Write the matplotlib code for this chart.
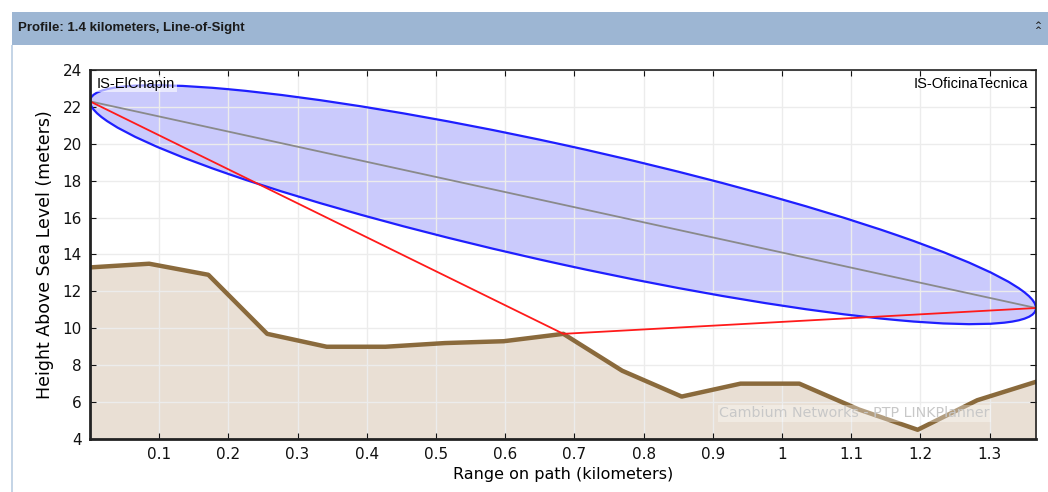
import numpy as np
import matplotlib
matplotlib.use("Agg")
import matplotlib.pyplot as plt
from matplotlib.patches import Ellipse, Rectangle
from matplotlib.transforms import Affine2D

# terrain profile (km, m)
range_km = [0.0, 0.0855, 0.171, 0.256, 0.342, 0.427, 0.513, 0.598, 0.684,
            0.769, 0.855, 0.940, 1.025, 1.111, 1.196, 1.282, 1.367]
terrain_m = [13.3, 13.5, 12.9, 9.7, 9.0, 9.0, 9.2, 9.3, 9.7,
             7.7, 6.3, 7.0, 7.0, 5.6, 4.5, 6.1, 7.1]

# antenna ends, grazing ray and fresnel radius
site_a = (0.0, 22.3)
site_b = (1.367, 11.1)
ray_x = [0.0, 0.684, 1.367]
ray_y = [22.3, 9.7, 11.1]
fresnel_radius = 3.25

x_ticks = [0.1, 0.2, 0.3, 0.4, 0.5, 0.6, 0.7, 0.8, 0.9, 1.0, 1.1, 1.2, 1.3]
x_ticklabels = ["0.1", "0.2", "0.3", "0.4", "0.5", "0.6", "0.7", "0.8", "0.9", "1", "1.1", "1.2", "1.3"]
y_ticks = list(range(4, 25, 2))

fig = plt.figure(figsize=(10.48, 4.92), dpi=100)
fig.patch.set_facecolor("white")

# panel header
fig.patches.append(Rectangle((12/1048, 1-45/492), 1, 33/492, transform=fig.transFigure,
                             facecolor="#9db6d3", edgecolor="none", zorder=0))
fig.patches.append(Rectangle((11/1048, 0), 2/1048, 1-45/492, transform=fig.transFigure,
                             facecolor="#c5d5e6", edgecolor="none", zorder=0))
fig.text(18/1048, 1-28/492, "Profile: 1.4 kilometers, Line-of-Sight", fontsize=9.5,
         family=["Liberation Sans Narrow", "Liberation Sans", "DejaVu Sans"], fontweight="bold",
         color="#1a1a1a", va="center", ha="left")
fig.text(1038/1048, 1-28/492, "^\n^", fontsize=6, ha="center", va="center",
         linespacing=0.45, color="#222222", fontweight="bold")

ax = fig.add_axes([90/1048, 53/492, 946/1048, 369/492])
ax.set_xlim(0, 1.367)
ax.set_ylim(4, 24)

# terrain
ax.fill_between(range_km, terrain_m, 4, color="#e9dfd4", zorder=1)
ax.plot(range_km, terrain_m, color="#8a6a3c", lw=3.2, zorder=4, solid_joinstyle="round")

# fresnel zone as a sheared unit circle
xc = (site_a[0] + site_b[0]) / 2
yc = (site_a[1] + site_b[1]) / 2
a = (site_b[0] - site_a[0]) / 2
slope = (site_b[1] - site_a[1]) / (site_b[0] - site_a[0])
shear = Affine2D(np.array([[a, 0, xc], [slope * a, fresnel_radius, yc], [0, 0, 1]]))
zone = Ellipse((0, 0), 2, 2, transform=shear + ax.transData,
               facecolor="#cacafc", edgecolor="none", zorder=2)
ax.add_patch(zone)
edge = Ellipse((0, 0), 2, 2, transform=shear + ax.transData,
               facecolor="none", edgecolor="#1f1fff", lw=1.6, zorder=5)
ax.add_patch(edge)

ax.plot([site_a[0], site_b[0]], [site_a[1], site_b[1]], color="#8a8a8a", lw=1.3, zorder=3)
ax.plot(ray_x, ray_y, color="#ff1a1a", lw=1.3, zorder=6)

ax.grid(True, color="#ececec", lw=1.0, zorder=3)
ax.set_axisbelow(False)
for gl in ax.get_xgridlines() + ax.get_ygridlines():
    gl.set_zorder(3)

ax.set_xticks(x_ticks)
ax.set_xticklabels(x_ticklabels)
ax.set_yticks(y_ticks)
ax.tick_params(direction="in", length=4, labelsize=11, colors="#111111", pad=6)
ax.tick_params(top=True, right=True, labeltop=False, labelright=False)
for side in ["left", "bottom"]:
    ax.spines[side].set_linewidth(2)
    ax.spines[side].set_color("#222222")
for side in ["top", "right"]:
    ax.spines[side].set_linewidth(1.2)
    ax.spines[side].set_color("#222222")
for sp in ax.spines.values():
    sp.set_zorder(8)

ax.set_xlabel("Range on path (kilometers)", fontsize=11.5, labelpad=3)
ax.set_ylabel("Height Above Sea Level (meters)", fontsize=12.5, labelpad=6)

ax.text(0.01, 23.25, "IS-ElChapin", fontsize=10.5, family=["Liberation Sans", "DejaVu Sans"],
        va="center", ha="left", zorder=9,
        bbox=dict(facecolor="white", alpha=0.6, edgecolor="none", pad=1))
ax.text(1.355, 23.25, "IS-OficinaTecnica", fontsize=10.5, family=["Liberation Sans", "DejaVu Sans"],
        va="center", ha="right", zorder=9)
ax.text(1.30, 5.4, "Cambium Networks - PTP LINKPlanner", fontsize=10.3, color="#c8c8c8",
        va="center", ha="right", zorder=9,
        bbox=dict(facecolor="white", alpha=0.35, edgecolor="none", pad=1))

fig.savefig("out.png", dpi=100)
